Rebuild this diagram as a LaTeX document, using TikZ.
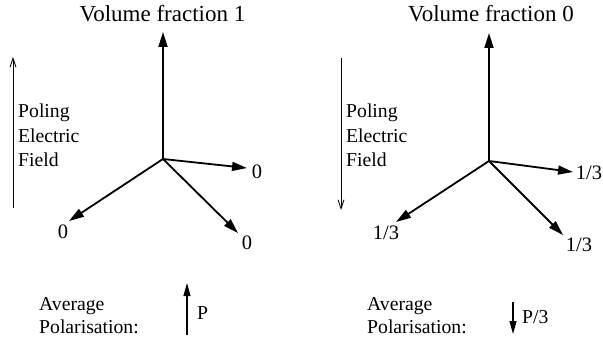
\documentclass[tikz,border=0pt]{standalone}
\usepackage{fontspec}
\setmainfont{Liberation Serif}
\usetikzlibrary{arrows.meta}

\tikzset{
    vecarrow/.style={line width=1.8pt, -{Triangle[length=15pt, width=9pt]}},
    fieldarrow/.style={line width=0.8pt, -{Straight Barb[length=9pt, width=6pt]}},
    polarrow/.style={line width=1.2pt, -{Triangle[length=13pt, width=7pt]}},
    headtext/.style={inner sep=0pt, font=\fontsize{23}{27}\selectfont},
    tiptext/.style={inner sep=0pt, font=\fontsize{20.5}{24}\selectfont},
    sidetext/.style={inner sep=0pt, anchor=base west, font=\fontsize{19.7}{24}\selectfont}
}

\begin{document}
\begin{tikzpicture}[x=1pt, y=-1pt]
    \useasboundingbox (0, 0) rectangle (603, 342);

    % Left: volume fraction 1
    \node[headtext, anchor=base] (titleA) at (162.5, 22) {Volume fraction 1};
    \coordinate (cA) at (163, 159);
    \coordinate (upA) at (163, 32);
    \coordinate (rtA) at (247, 168);
    \coordinate (dlA) at (69, 221);
    \coordinate (drA) at (238, 233);
    \foreach \t in {upA, rtA, dlA, drA} {
            \draw[vecarrow] (cA) -- (\t);
        }
    \node[tiptext] (labrtA) at (257, 172) {0};
    \node[tiptext] (labdlA) at (63, 232) {0};
    \node[tiptext] (labdrA) at (247, 243) {0};

    % Poling field, upwards
    \coordinate (fieldA0) at (13, 208);
    \coordinate (fieldA1) at (13, 57);
    \draw[fieldarrow] (fieldA0) -- (fieldA1);
    \foreach \w [count=\k] in {Poling, Electric, Field} {
            \node[sidetext] (fieldtextA\k) at (18, 93.5+24.5*\k) {\w};
        }

    % Right: volume fraction 0
    \node[headtext, anchor=base] (titleB) at (491, 22) {Volume fraction 0};
    \coordinate (cB) at (489, 161);
    \coordinate (upB) at (489, 33);
    \coordinate (rtB) at (573, 172);
    \coordinate (dlB) at (396, 222);
    \coordinate (drB) at (563, 235);
    \foreach \t in {upB, rtB, dlB, drB} {
            \draw[vecarrow] (cB) -- (\t);
        }
    \node[tiptext] (labrtB) at (589, 173) {1/3};
    \node[tiptext] (labdlB) at (386, 233) {1/3};
    \node[tiptext] (labdrB) at (579, 245) {1/3};

    % Poling field, downwards
    \coordinate (fieldB0) at (341, 58);
    \coordinate (fieldB1) at (341, 210);
    \draw[fieldarrow] (fieldB0) -- (fieldB1);
    \foreach \w [count=\k] in {Poling, Electric, Field} {
            \node[sidetext] (fieldtextB\k) at (346, 93.5+24.5*\k) {\w};
        }

    % Average polarisation
    \node[sidetext] (avgA1) at (39, 310) {Average};
    \node[sidetext] (avgA2) at (39, 333) {Polarisation:};
    \coordinate (polA0) at (187, 335);
    \coordinate (polA1) at (187, 283);
    \draw[polarrow] (polA0) -- (polA1);
    \node[sidetext, anchor=west] (polAtext) at (197, 313) {P};

    \node[sidetext] (avgB1) at (367, 310) {Average};
    \node[sidetext] (avgB2) at (367, 333) {Polarisation:};
    \coordinate (polB0) at (513, 302);
    \coordinate (polB1) at (513, 334);
    \draw[polarrow] (polB0) -- (polB1);
    \node[sidetext, anchor=west] (polBtext) at (522, 317) {P/3};
\end{tikzpicture}
\end{document}
